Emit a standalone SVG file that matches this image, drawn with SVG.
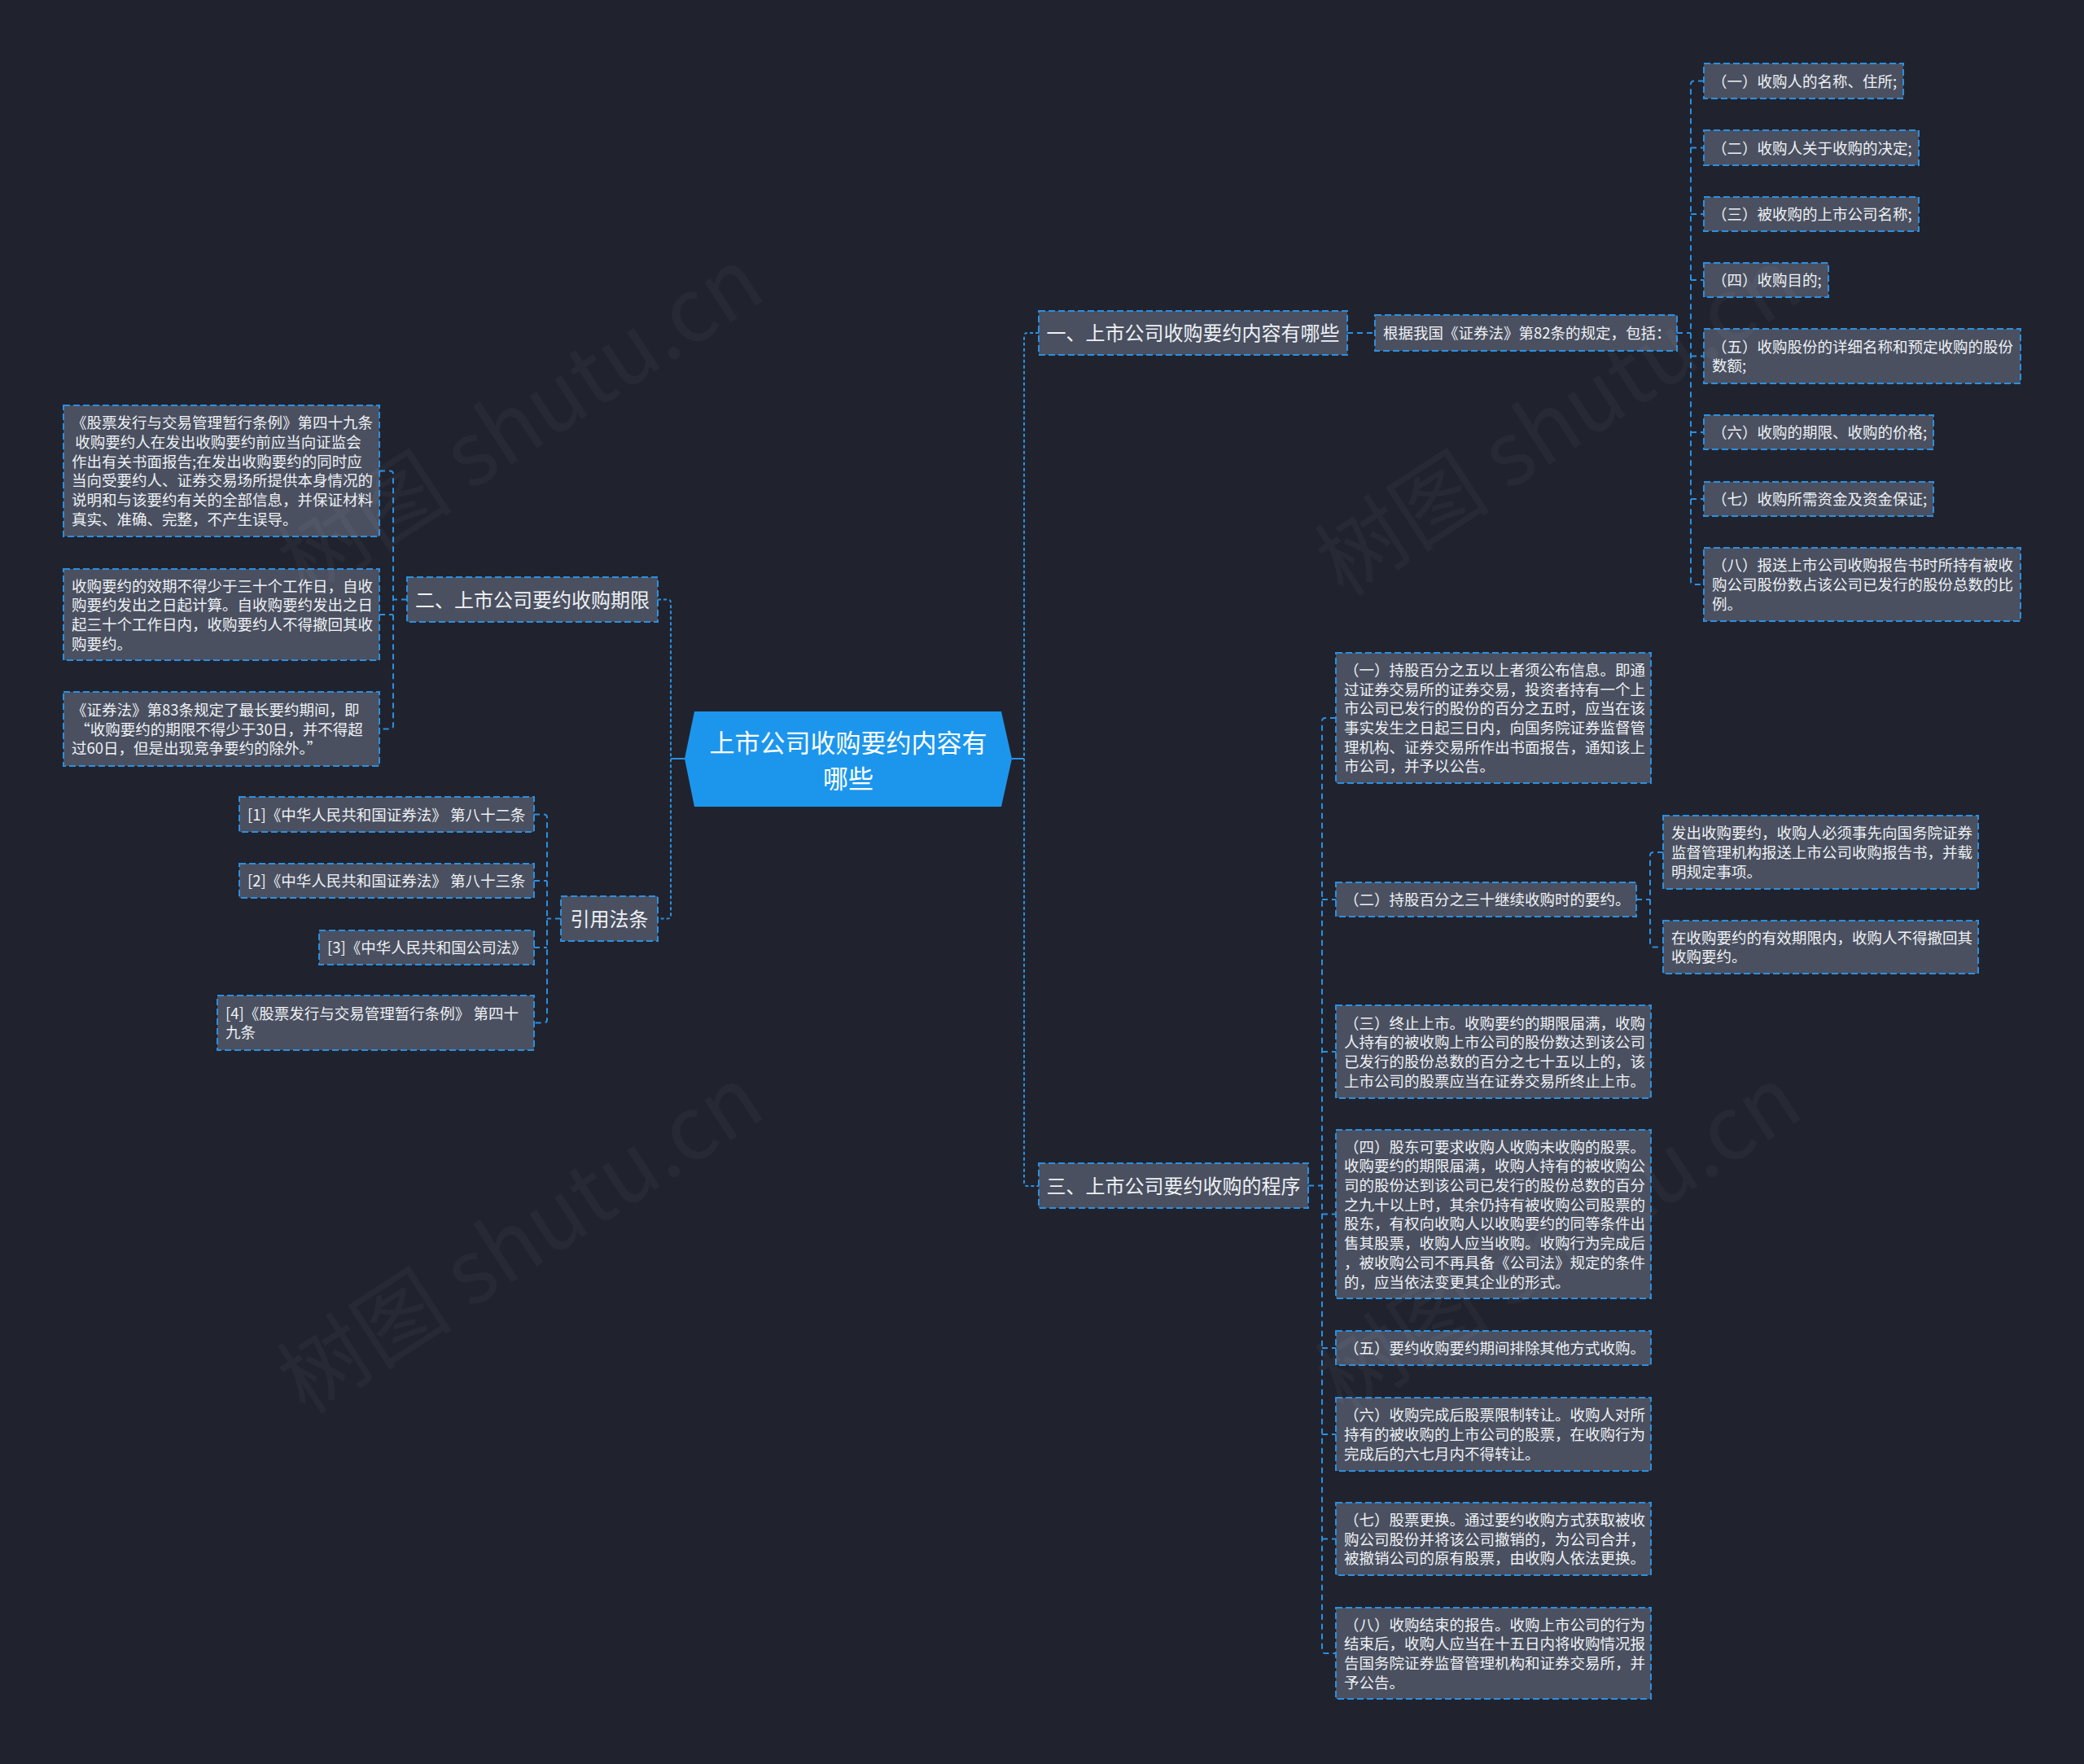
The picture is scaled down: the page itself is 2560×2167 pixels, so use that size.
<svg xmlns="http://www.w3.org/2000/svg" width="2560" height="2167" viewBox="0 0 2560 2167">
<defs>
<style>
.bg{fill:#20232e}
.n{fill:#4a5060;stroke:#2b8fe0;stroke-width:2;stroke-dasharray:8 4}
.t{font-family:"Noto Sans CJK SC","Noto Sans",sans-serif;font-size:18.5px;fill:#eef0f4}
.h{font-family:"Noto Sans CJK SC","Noto Sans",sans-serif;font-size:24px;fill:#eef0f4;text-anchor:middle}
.r{font-family:"Noto Sans CJK SC","Noto Sans",sans-serif;font-size:31px;fill:#ffffff;text-anchor:middle}
.c{fill:none;stroke:#2b8fe0;stroke-width:2;stroke-dasharray:7 5}
.cm{fill:none;stroke:#2b8fe0;stroke-width:2;stroke-dasharray:4 3}
.cs{fill:none;stroke:#2b8fe0;stroke-width:2}
.wm{font-family:"Noto Sans CJK SC","Noto Sans",sans-serif;font-size:108px;fill:#ffffff;fill-opacity:0.035;text-anchor:middle}
</style>
</defs>
<rect class="bg" x="0" y="0" width="2560" height="2167"/>

<g id="connectors">
<path class="cs" d="M1243 932 H1258"/>
<path class="cm" d="M1276 409 H1262 Q1258 409 1258 413 V1453 Q1258 1457 1262 1457 H1276"/>
<path class="cs" d="M841 932 H824"/>
<path class="cm" d="M808 736.5 H820 Q824 736.5 824 740.5 V1124.5 Q824 1128.5 820 1128.5 H808"/>
<path class="c" d="M1655 409 H1689"/>
<path class="c" d="M2060 409 H2077"/>
<path class="c" d="M2093 99.5 H2081 Q2077 99.5 2077 103.5 V714 Q2077 718 2081 718 H2093"/>
<path class="c" d="M2077 181.5 H2093 M2077 263 H2093 M2077 344 H2093 M2077 437.5 H2093 M2077 531 H2093 M2077 613 H2093"/>
<path class="c" d="M500 736.5 H483"/>
<path class="c" d="M466 578.5 H479 Q483 578.5 483 582.5 V891.5 Q483 895.5 479 895.5 H466"/>
<path class="c" d="M466 755 H483"/>
<path class="c" d="M689 1128.5 H672"/>
<path class="c" d="M656 1000.5 H668 Q672 1000.5 672 1004.5 V1252.5 Q672 1256.5 668 1256.5 H656"/>
<path class="c" d="M656 1082 H672 M656 1164 H672"/>
<path class="c" d="M1607 1456.5 H1624"/>
<path class="c" d="M1641 882 H1628 Q1624 882 1624 886 V2027 Q1624 2031 1628 2031 H1641"/>
<path class="c" d="M1624 1105 H1641 M1624 1292 H1641 M1624 1491.5 H1641 M1624 1656 H1641 M1624 1762 H1641 M1624 1890.5 H1641"/>
<path class="c" d="M2010 1105 H2027"/>
<path class="c" d="M2043 1047 H2031 Q2027 1047 2027 1051 V1159.5 Q2027 1163.5 2031 1163.5 H2043"/>
</g>

<g id="root">
<polygon points="853,874 1230,874 1243,932 1230,991 853,991 841,932" fill="#1c96ec"/>
<text class="r" x="1042" y="923.5">上市公司收购要约内容有</text>
<text class="r" x="1042" y="967.5">哪些</text>
</g>

<g id="n-a">
<rect class="n" x="1276" y="382" width="379" height="54"/>
<text class="h" x="1465.5" y="418">一、上市公司收购要约内容有哪些</text>
</g>
<g id="n-a1">
<rect class="n" x="1689" y="387" width="371" height="44"/>
<text class="t" x="1699" y="416">根据我国《证券法》第82条的规定，包括：</text>
</g>
<g id="n-a1-1"><rect class="n" x="2093" y="78" width="245" height="43"/><text class="t" x="2103" y="106.5">（一）收购人的名称、住所;</text></g>
<g id="n-a1-2"><rect class="n" x="2093" y="160" width="264" height="43"/><text class="t" x="2103" y="188.5">（二）收购人关于收购的决定;</text></g>
<g id="n-a1-3"><rect class="n" x="2093" y="242" width="264" height="42"/><text class="t" x="2103" y="270">（三）被收购的上市公司名称;</text></g>
<g id="n-a1-4"><rect class="n" x="2093" y="323" width="153" height="42"/><text class="t" x="2103" y="351">（四）收购目的;</text></g>
<g id="n-a1-5"><rect class="n" x="2093" y="404" width="389" height="67"/><text class="t" x="2103" y="432.7"><tspan x="2103" y="432.7">（五）收购股份的详细名称和预定收购的股份</tspan><tspan x="2103" dy="23.7">数额;</tspan></text></g>
<g id="n-a1-6"><rect class="n" x="2093" y="510" width="282" height="42"/><text class="t" x="2103" y="538">（六）收购的期限、收购的价格;</text></g>
<g id="n-a1-7"><rect class="n" x="2093" y="592" width="282" height="42"/><text class="t" x="2103" y="620">（七）收购所需资金及资金保证;</text></g>
<g id="n-a1-8"><rect class="n" x="2093" y="673" width="389" height="90"/><text class="t" x="2103" y="701.3"><tspan x="2103" y="701.3">（八）报送上市公司收购报告书时所持有被收</tspan><tspan x="2103" dy="23.7">购公司股份数占该公司已发行的股份总数的比</tspan><tspan x="2103" dy="23.7">例。</tspan></text></g>

<g id="n-b">
<rect class="n" x="500" y="709" width="308" height="55"/>
<text class="h" x="654" y="745.5">二、上市公司要约收购期限</text>
</g>
<g id="n-b1"><rect class="n" x="78" y="498" width="388" height="161"/><text class="t" x="88" y="526.3"><tspan x="88" y="526.3">《股票发行与交易管理暂行条例》第四十九条</tspan><tspan x="88" dy="23.7"> 收购要约人在发出收购要约前应当向证监会</tspan><tspan x="88" dy="23.7">作出有关书面报告;在发出收购要约的同时应</tspan><tspan x="88" dy="23.7">当向受要约人、证券交易场所提供本身情况的</tspan><tspan x="88" dy="23.7">说明和与该要约有关的全部信息，并保证材料</tspan><tspan x="88" dy="23.7">真实、准确、完整，不产生误导。</tspan></text></g>
<g id="n-b2"><rect class="n" x="78" y="699" width="388" height="112"/><text class="t" x="88" y="726.5"><tspan x="88" y="726.5">收购要约的效期不得少于三十个工作日，自收</tspan><tspan x="88" dy="23.7">购要约发出之日起计算。自收购要约发出之日</tspan><tspan x="88" dy="23.7">起三十个工作日内，收购要约人不得撤回其收</tspan><tspan x="88" dy="23.7">购要约。</tspan></text></g>
<g id="n-b3"><rect class="n" x="78" y="850" width="388" height="91"/><text class="t" x="88" y="879"><tspan x="88" y="879">《证券法》第83条规定了最长要约期间，即</tspan><tspan x="88" dy="23.7"> “收购要约的期限不得少于30日，并不得超</tspan><tspan x="88" dy="23.7">过60日，但是出现竞争要约的除外。”</tspan></text></g>

<g id="n-d">
<rect class="n" x="689" y="1101" width="119" height="55"/>
<text class="h" x="748.5" y="1137.5">引用法条</text>
</g>
<g id="n-d1"><rect class="n" x="294" y="979" width="362" height="43"/><text class="t" x="304" y="1007.5">[1]《中华人民共和国证券法》 第八十二条</text></g>
<g id="n-d2"><rect class="n" x="294" y="1061" width="362" height="42"/><text class="t" x="304" y="1089">[2]《中华人民共和国证券法》 第八十三条</text></g>
<g id="n-d3"><rect class="n" x="392" y="1143" width="264" height="42"/><text class="t" x="402" y="1171">[3]《中华人民共和国公司法》</text></g>
<g id="n-d4"><rect class="n" x="267" y="1223" width="389" height="67"/><text class="t" x="277" y="1251.7"><tspan x="277" y="1251.7">[4]《股票发行与交易管理暂行条例》 第四十</tspan><tspan x="277" dy="23.7">九条</tspan></text></g>

<g id="n-c">
<rect class="n" x="1276" y="1429" width="331" height="55"/>
<text class="h" x="1441.5" y="1465.5">三、上市公司要约收购的程序</text>
</g>
<g id="n-c1"><rect class="n" x="1641" y="802" width="387" height="160"/><text class="t" x="1651" y="829.8"><tspan x="1651" y="829.8">（一）持股百分之五以上者须公布信息。即通</tspan><tspan x="1651" dy="23.7">过证券交易所的证券交易，投资者持有一个上</tspan><tspan x="1651" dy="23.7">市公司已发行的股份的百分之五时，应当在该</tspan><tspan x="1651" dy="23.7">事实发生之日起三日内，向国务院证券监督管</tspan><tspan x="1651" dy="23.7">理机构、证券交易所作出书面报告，通知该上</tspan><tspan x="1651" dy="23.7">市公司，并予以公告。</tspan></text></g>
<g id="n-c2"><rect class="n" x="1641" y="1084" width="369" height="42"/><text class="t" x="1651" y="1112">（二）持股百分之三十继续收购时的要约。</text></g>
<g id="n-c2-1"><rect class="n" x="2043" y="1002" width="387" height="90"/><text class="t" x="2053" y="1030.3"><tspan x="2053" y="1030.3">发出收购要约，收购人必须事先向国务院证券</tspan><tspan x="2053" dy="23.7">监督管理机构报送上市公司收购报告书，并载</tspan><tspan x="2053" dy="23.7">明规定事项。</tspan></text></g>
<g id="n-c2-2"><rect class="n" x="2043" y="1131" width="387" height="65"/><text class="t" x="2053" y="1158.7"><tspan x="2053" y="1158.7">在收购要约的有效期限内，收购人不得撤回其</tspan><tspan x="2053" dy="23.7">收购要约。</tspan></text></g>
<g id="n-c3"><rect class="n" x="1641" y="1235" width="387" height="114"/><text class="t" x="1651" y="1263.5"><tspan x="1651" y="1263.5">（三）终止上市。收购要约的期限届满，收购</tspan><tspan x="1651" dy="23.7">人持有的被收购上市公司的股份数达到该公司</tspan><tspan x="1651" dy="23.7">已发行的股份总数的百分之七十五以上的，该</tspan><tspan x="1651" dy="23.7">上市公司的股票应当在证券交易所终止上市。</tspan></text></g>
<g id="n-c4"><rect class="n" x="1641" y="1388" width="387" height="207"/><text class="t" x="1651" y="1415.6"><tspan x="1651" y="1415.6">（四）股东可要求收购人收购未收购的股票。</tspan><tspan x="1651" dy="23.7">收购要约的期限届满，收购人持有的被收购公</tspan><tspan x="1651" dy="23.7">司的股份达到该公司已发行的股份总数的百分</tspan><tspan x="1651" dy="23.7">之九十以上时，其余仍持有被收购公司股票的</tspan><tspan x="1651" dy="23.7">股东，有权向收购人以收购要约的同等条件出</tspan><tspan x="1651" dy="23.7">售其股票，收购人应当收购。收购行为完成后</tspan><tspan x="1651" dy="23.7">，被收购公司不再具备《公司法》规定的条件</tspan><tspan x="1651" dy="23.7">的，应当依法变更其企业的形式。</tspan></text></g>
<g id="n-c5"><rect class="n" x="1641" y="1635" width="387" height="42"/><text class="t" x="1651" y="1663">（五）要约收购要约期间排除其他方式收购。</text></g>
<g id="n-c6"><rect class="n" x="1641" y="1717" width="387" height="90"/><text class="t" x="1651" y="1745.3"><tspan x="1651" y="1745.3">（六）收购完成后股票限制转让。收购人对所</tspan><tspan x="1651" dy="23.7">持有的被收购的上市公司的股票，在收购行为</tspan><tspan x="1651" dy="23.7">完成后的六七月内不得转让。</tspan></text></g>
<g id="n-c7"><rect class="n" x="1641" y="1846" width="387" height="89"/><text class="t" x="1651" y="1873.8"><tspan x="1651" y="1873.8">（七）股票更换。通过要约收购方式获取被收</tspan><tspan x="1651" dy="23.7">购公司股份并将该公司撤销的，为公司合并，</tspan><tspan x="1651" dy="23.7">被撤销公司的原有股票，由收购人依法更换。</tspan></text></g>
<g id="n-c8"><rect class="n" x="1641" y="1975" width="387" height="112"/><text class="t" x="1651" y="2002.5"><tspan x="1651" y="2002.5">（八）收购结束的报告。收购上市公司的行为</tspan><tspan x="1651" dy="23.7">结束后，收购人应当在十五日内将收购情况报</tspan><tspan x="1651" dy="23.7">告国务院证券监督管理机构和证券交易所，并</tspan><tspan x="1651" dy="23.7">予公告。</tspan></text></g>

<g id="watermarks">
<text class="wm" transform="translate(660,550) rotate(-33)">树图 shutu.cn</text>
<text class="wm" transform="translate(1935,550) rotate(-33)">树图 shutu.cn</text>
<text class="wm" transform="translate(660,1555) rotate(-33)">树图 shutu.cn</text>
<text class="wm" transform="translate(1935,1555) rotate(-33)">树图 shutu.cn</text>
</g>
</svg>
